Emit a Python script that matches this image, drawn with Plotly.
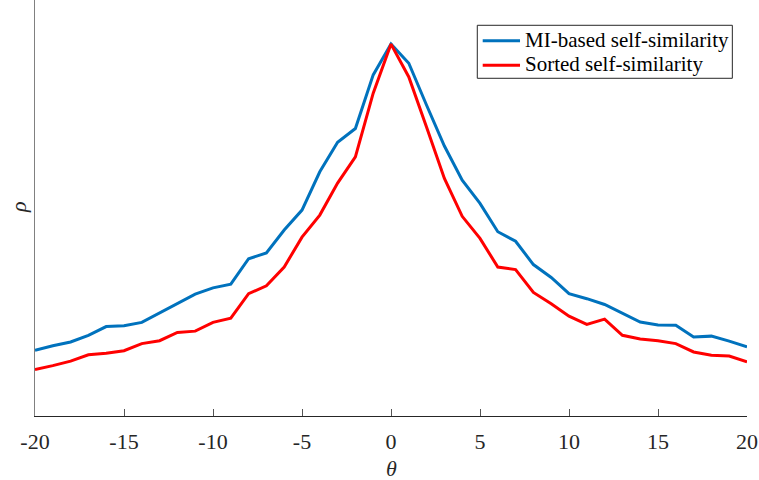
import plotly.graph_objects as go

# Angle offsets and correlation profiles
theta = list(range(-20, 21))

mi_self_similarity = [
    0.158, 0.169, 0.178, 0.194, 0.215, 0.217, 0.225, 0.248, 0.269, 0.293,
    0.308, 0.317, 0.378, 0.392, 0.447, 0.495, 0.587, 0.658, 0.691, 0.820,
    0.894,
    0.848, 0.747, 0.649, 0.567, 0.511, 0.443, 0.420, 0.364, 0.333, 0.294,
    0.282, 0.268, 0.246, 0.226, 0.219, 0.218, 0.190, 0.192, 0.180, 0.166,
]

sorted_self_similarity = [
    0.112, 0.121, 0.132, 0.147, 0.151, 0.157, 0.174, 0.181, 0.201, 0.204,
    0.225, 0.235, 0.294, 0.313, 0.358, 0.430, 0.483, 0.560, 0.623, 0.776,
    0.894,
    0.815, 0.694, 0.571, 0.480, 0.427, 0.358, 0.352, 0.297, 0.270, 0.240,
    0.220, 0.233, 0.194, 0.185, 0.181, 0.174, 0.154, 0.146, 0.144, 0.130,
]

x_ticks = [-20, -15, -10, -5, 0, 5, 10, 15, 20]
x_tick_labels = ["-20", "-15", "-10", "-5", "0", "5", "10", "15", "20"]

series_names = ["MI-based self-similarity", "Sorted self-similarity"]
series_colors = ["#0072BD", "#FF0000"]

FONT = "Liberation Serif, Times New Roman, serif"

fig = go.Figure()
for name, values, color in zip(series_names,
                               [mi_self_similarity, sorted_self_similarity],
                               series_colors):
    fig.add_trace(go.Scatter(
        x=theta, y=values, mode="lines", name=name,
        line=dict(color=color, width=3),
        showlegend=False,
    ))

# Compact boxed legend in the upper right, built from the series names/colours
legend_box = dict(x0=0.6212, x1=0.9794, y0=0.8118, y1=0.9392)
row_y = [0.9022, 0.8433]
shapes = [dict(type="rect", xref="paper", yref="paper",
               line=dict(color="#262626", width=1), fillcolor="white",
               layer="above", **legend_box)]
annotations = []
for name, color, ry in zip(series_names, series_colors, row_y):
    shapes.append(dict(type="line", xref="paper", yref="paper",
                       x0=0.6288, x1=0.6812, y0=ry, y1=ry,
                       line=dict(color=color, width=3), layer="above"))
    annotations.append(dict(text=name, xref="paper", yref="paper",
                            x=0.6858, y=ry + 0.002, xanchor="left", yanchor="middle",
                            showarrow=False,
                            font=dict(family=FONT, size=21, color="#000000")))

annotations += [
    dict(text="<i>θ</i>", x=0, xref="x", y=-0.126, yref="paper",
         xanchor="center", yanchor="middle", showarrow=False,
         font=dict(family=FONT, size=22, color="#262626")),
    dict(text="<i>ρ</i>", x=-0.024, xref="paper", y=0.502, yref="paper",
         xanchor="center", yanchor="middle", showarrow=False, textangle=-90,
         font=dict(family=FONT, size=22, color="#262626")),
]

fig.update_layout(
    width=759, height=480,
    margin=dict(l=35, r=12, t=0, b=64),
    paper_bgcolor="white", plot_bgcolor="white",
    font=dict(family=FONT, size=21, color="#262626"),
    showlegend=False,
    xaxis=dict(
        range=[-20, 20], tickmode="array", tickvals=x_ticks, ticktext=x_tick_labels,
        ticks="inside", ticklen=7, tickcolor="#555555", tickwidth=1,
        tickfont=dict(family=FONT, size=22, color="#262626"),
        showline=True, linecolor="#262626", linewidth=1,
        showgrid=False, zeroline=False, mirror=False,
        ticklabelstandoff=6,
    ),
    yaxis=dict(
        range=[0, 1], showticklabels=False, ticks="",
        showline=True, linecolor="#808080", linewidth=1,
        showgrid=False, zeroline=False,
    ),
    shapes=shapes,
    annotations=annotations,
)

fig.write_html("out.html")
